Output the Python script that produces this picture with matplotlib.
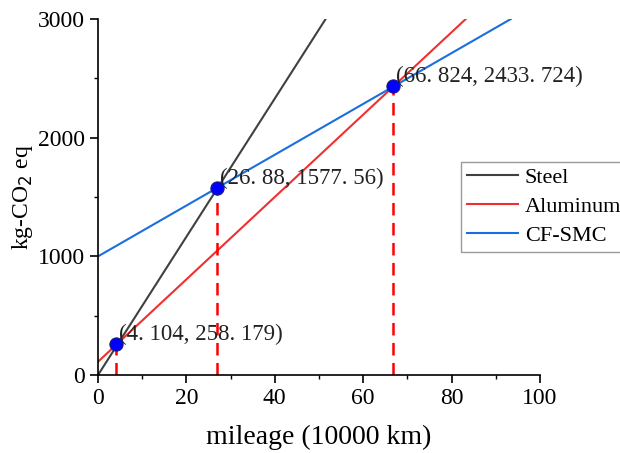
import matplotlib
matplotlib.use("Agg")
from matplotlib import pyplot as plt
from matplotlib.ticker import MultipleLocator

# line endpoints
steel_x = [0, 51.5]
steel_y = [0, 3000]
alu_x = [0, 83.2]
alu_y = [112, 3000]
smc_x = [0, 93.4]
smc_y = [1000, 3000]

# intersection points
px = [4.104, 26.88, 66.824]
py = [258.179, 1577.56, 2433.724]
plabels = ["(4. 104, 258. 179)", "(26. 88, 1577. 56)", "(66. 824, 2433. 724)"]

plt.rcParams['font.family'] = ['Liberation Serif', 'DejaVu Serif']

fig = plt.figure(figsize=(6.2, 4.53), dpi=100)
ax = fig.add_axes([0.158, 0.172, 0.713, 0.786])

ax.plot(steel_x, steel_y, color='#404040', lw=1.5, label='Steel')
ax.plot(alu_x, alu_y, color='#f03030', lw=1.5, label='Aluminum')
ax.plot(smc_x, smc_y, color='#1a6fe0', lw=1.5, label='CF-SMC')

for x, y in zip(px, py):
    ax.plot([x, x], [0, y], color='red', ls=(0, (5, 3)), lw=1.8)
ax.scatter(px, py, s=90, c='#0000ff', edgecolors='#1a1a80', linewidths=0.8, zorder=5)
for x, y, t in zip(px, py, plabels):
    ax.annotate(t, (x, y), xytext=(2, 7), textcoords='offset points',
                fontsize=16.5, color='#222222', va='center')

ax.set_xlim(0, 100)
ax.set_ylim(0, 3000)
ax.xaxis.set_major_locator(MultipleLocator(20))
ax.xaxis.set_minor_locator(MultipleLocator(10))
ax.yaxis.set_major_locator(MultipleLocator(1000))
ax.yaxis.set_minor_locator(MultipleLocator(500))
ax.tick_params(which='major', direction='out', length=6, width=1.2, labelsize=17)
ax.tick_params(which='minor', direction='out', length=3, width=1.0)
for s in ['top', 'right']:
    ax.spines[s].set_visible(False)
for s in ['left', 'bottom']:
    ax.spines[s].set_linewidth(1.2)

ax.set_xlabel('mileage (10000 km)', fontsize=20, labelpad=11)
ax.set_ylabel('kg-CO$_2$ eq', fontsize=17, labelpad=2)

leg = ax.legend(loc='upper left', bbox_to_anchor=(0.822, 0.598), fontsize=16,
                fancybox=False, edgecolor='#999999', framealpha=1,
                handlelength=2.3, handletextpad=0.3, borderpad=0.25,
                labelspacing=0.38, borderaxespad=0)
leg.get_frame().set_linewidth(1.0)

fig.savefig('out.png', dpi=100)
